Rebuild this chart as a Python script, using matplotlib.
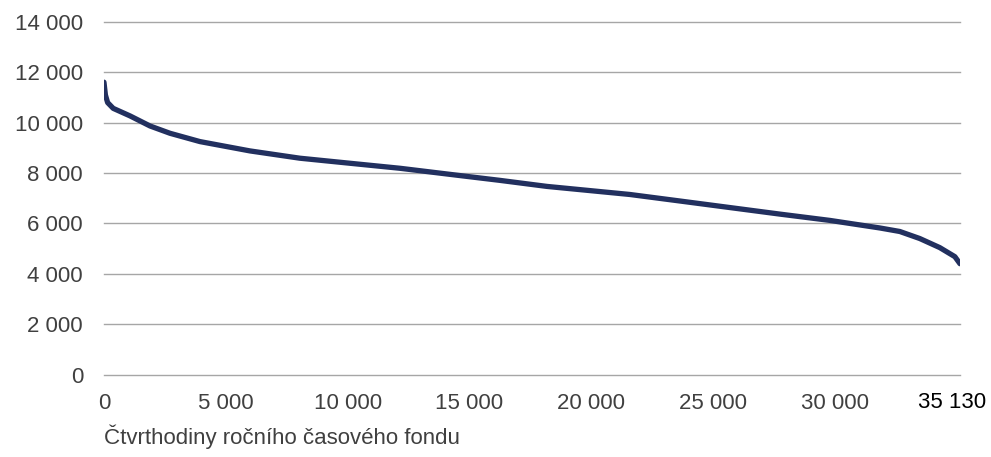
import numpy as np
import matplotlib.pyplot as plt

plt.rcParams['font.family'] = ['Liberation Sans', 'DejaVu Sans']

# seřazené hodnoty zatížení
ctvrthodiny = [0, 60, 150, 380, 1070, 1890, 2710, 3940, 5990, 8040, 10090,
               12150, 14530, 16250, 18180, 21580, 23640, 25690, 27740, 29790,
               31840, 32660, 33480, 34300, 34920, 35130]
zatizeni = [11610, 11100, 10800, 10570, 10270, 9870, 9580, 9250, 8880, 8590,
            8390, 8190, 7910, 7710, 7470, 7150, 6890, 6630, 6370, 6120, 5820,
            5680, 5400, 5040, 4680, 4400]

x_ticks = [0, 5000, 10000, 15000, 20000, 25000, 30000]
x_labels = ['0', '5 000', '10 000', '15 000', '20 000', '25 000', '30 000']
x_last = '35 130'
y_ticks = [0, 2000, 4000, 6000, 8000, 10000, 12000, 14000]
y_labels = ['0', '2 000', '4 000', '6 000', '8 000', '10 000', '12 000', '14 000']

fig = plt.figure(figsize=(9.91, 4.57), dpi=100)
ax = fig.add_axes([0.1049, 0.1805, 0.8638, 0.7714])

ax.plot(ctvrthodiny, zatizeni, color='#22305f', lw=3.8,
        solid_capstyle='round', solid_joinstyle='round', zorder=3)

ax.set_xlim(0, 35130)
ax.set_ylim(0, 14000)
ax.set_yticks(y_ticks)
ax.set_yticklabels(y_labels)
ax.set_xticks(x_ticks)
ax.set_xticklabels(x_labels)
ax.tick_params(axis='both', length=0, labelsize=16, labelcolor='#404040')
ax.tick_params(axis='y', pad=15)
ax.tick_params(axis='x', pad=13)

ax.grid(axis='y', color='#a6a6a6', lw=1.0)
for gl in ax.get_ygridlines():
    gl.set_clip_on(False)
ax.set_axisbelow(True)
for s in ax.spines.values():
    s.set_visible(False)

# poslední popisek osy x (vložen zvlášť, černě)
fig.text(952 / 991, 1 - 402 / 457, x_last, fontsize=16, color='black',
         ha='center', va='center')

fig.text(104 / 991, 1 - 437 / 457, 'Čtvrthodiny ročního časového fondu',
         fontsize=16, color='#404040', ha='left', va='center')

fig.savefig('out.png', dpi=100)
